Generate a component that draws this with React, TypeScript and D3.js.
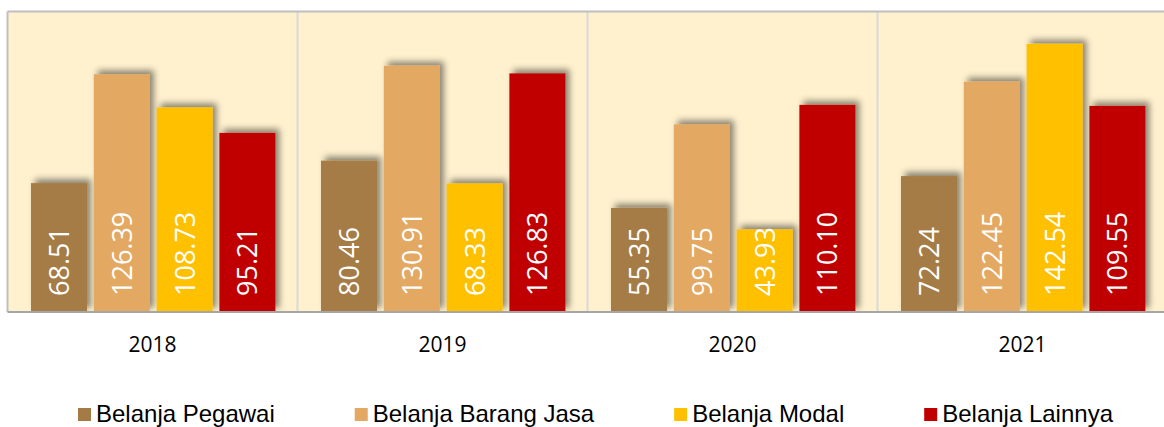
import React, { useEffect, useRef } from 'react';
import * as d3 from 'd3';

// Chart data
const years = ['2018', '2019', '2020', '2021'];
const seriesNames = ['Belanja Pegawai', 'Belanja Barang Jasa', 'Belanja Modal', 'Belanja Lainnya'];
const belanjaPegawai = [68.51, 80.46, 55.35, 72.24];
const belanjaBarangJasa = [126.39, 130.91, 99.75, 122.45];
const belanjaModal = [108.73, 68.33, 43.93, 142.54];
const belanjaLainnya = [95.21, 126.83, 110.1, 109.55];
const seriesColors = ['#A57B45', '#E3A862', '#FFC000', '#C00000'];

const App = () => {
    const svgRef = useRef<SVGSVGElement>(null);

    useEffect(() => {
        const svg = d3.select(svgRef.current);
        svg.selectAll('*').remove();

        const width = 1164;
        const height = 427;
        const plot = { left: 7.5, top: 11.5, right: 1167.5, bottom: 312 };

        const seriesValues = [belanjaPegawai, belanjaBarangJasa, belanjaModal, belanjaLainnya];
        const data = years.map((year, i) => ({
            year,
            values: seriesValues.map((s, j) => ({ key: seriesNames[j], value: s[i], color: seriesColors[j] })),
        }));

        // Scales
        const xScale = d3.scaleBand().domain(years).range([plot.left, plot.right]).padding(0);
        const xInner = d3
            .scaleBand()
            .domain(seriesNames)
            .range([23.5, xScale.bandwidth() - 22.1])
            .paddingInner(0.108)
            .paddingOuter(0);
        const yScale = d3.scaleLinear().domain([0, 160]).range([plot.bottom, plot.top - 0.5]);

        // Shadow filter and clip
        const defs = svg.append('defs');
        const filter = defs
            .append('filter')
            .attr('id', 'barShadow')
            .attr('x', '-20%')
            .attr('y', '-20%')
            .attr('width', '140%')
            .attr('height', '140%');
        filter
            .append('feDropShadow')
            .attr('dx', 4)
            .attr('dy', -4)
            .attr('stdDeviation', 3)
            .attr('flood-color', '#000')
            .attr('flood-opacity', 0.45);
        defs.append('clipPath')
            .attr('id', 'plotClip')
            .append('rect')
            .attr('x', plot.left)
            .attr('y', plot.top)
            .attr('width', plot.right - plot.left)
            .attr('height', plot.bottom - plot.top);

        // Plot background
        svg.append('rect')
            .attr('x', plot.left)
            .attr('y', plot.top)
            .attr('width', plot.right - plot.left)
            .attr('height', plot.bottom - plot.top)
            .attr('fill', '#FFF1CE');

        // Vertical category separators
        svg.append('g')
            .selectAll('line')
            .data(years.slice(1))
            .enter()
            .append('line')
            .attr('x1', (d) => xScale(d)!)
            .attr('x2', (d) => xScale(d)!)
            .attr('y1', plot.top)
            .attr('y2', plot.bottom)
            .attr('stroke', '#D9D9D9')
            .attr('stroke-width', 2);

        // Bars
        const groups = svg
            .append('g')
            .attr('clip-path', 'url(#plotClip)')
            .selectAll('g')
            .data(data)
            .enter()
            .append('g')
            .attr('transform', (d) => `translate(${xScale(d.year)},0)`);

        groups
            .selectAll('rect')
            .data((d) => d.values)
            .enter()
            .append('rect')
            .attr('x', (d) => xInner(d.key)!)
            .attr('y', (d) => yScale(d.value))
            .attr('width', xInner.bandwidth())
            .attr('height', (d) => plot.bottom - yScale(d.value))
            .attr('fill', (d) => d.color)
            .attr('filter', 'url(#barShadow)');

        // Value labels (rotated, inside base)
        groups
            .selectAll('text')
            .data((d) => d.values)
            .enter()
            .append('text')
            .attr('transform', (d) => `translate(${xInner(d.key)! + xInner.bandwidth() / 2 + 10},${plot.bottom - 16}) rotate(-90)`)
            .attr('text-anchor', 'start')
            .attr('fill', '#fff')
            .style('font-family', '"Open Sans", sans-serif')
            .style('font-size', '27px')
            .text((d) => d.value.toFixed(2));

        // Frame lines
        svg.append('line')
            .attr('x1', plot.left)
            .attr('x2', plot.right)
            .attr('y1', plot.top)
            .attr('y2', plot.top)
            .attr('stroke', '#BFBFBF')
            .attr('stroke-width', 2);
        svg.append('line')
            .attr('x1', plot.left)
            .attr('x2', plot.left)
            .attr('y1', plot.top)
            .attr('y2', plot.bottom)
            .attr('stroke', '#BFBFBF')
            .attr('stroke-width', 2);
        svg.append('line')
            .attr('x1', plot.left)
            .attr('x2', plot.right)
            .attr('y1', plot.bottom)
            .attr('y2', plot.bottom)
            .attr('stroke', '#A6A6A6')
            .attr('stroke-width', 2);

        // Category axis labels
        svg.append('g')
            .selectAll('text')
            .data(years)
            .enter()
            .append('text')
            .attr('x', (d) => xScale(d)! + xScale.bandwidth() / 2)
            .attr('y', 352)
            .attr('text-anchor', 'middle')
            .attr('fill', '#000')
            .style('font-family', '"Open Sans", sans-serif')
            .style('font-size', '21px')
            .text((d) => d);

        // Legend
        const legendStart = 78;
        const legendEnd = 1113;
        const markerSize = 13;
        const items = svg
            .append('g')
            .selectAll('g')
            .data(seriesNames)
            .enter()
            .append('g');
        items.append('rect')
            .attr('x', 0)
            .attr('y', 408)
            .attr('width', markerSize)
            .attr('height', markerSize)
            .attr('fill', (d, i) => seriesColors[i]);
        const labels = items
            .append('text')
            .attr('x', markerSize + 5)
            .attr('y', 422)
            .attr('fill', '#000')
            .style('font-family', '"Liberation Sans", Arial, sans-serif')
            .style('font-size', '24px')
            .text((d) => d);

        const itemWidths = labels.nodes().map((n) => markerSize + 5 + (n as SVGTextElement).getComputedTextLength());
        const gap = (legendEnd - legendStart - d3.sum(itemWidths)) / (itemWidths.length - 1);
        let cursor = legendStart;
        items.each(function (d, i) {
            d3.select(this).attr('transform', `translate(${cursor},0)`);
            cursor += itemWidths[i] + gap;
        });

        svg.attr('width', width).attr('height', height);
    }, []);

    return <svg ref={svgRef} width={1164} height={427} style={{ position: 'absolute', left: 0, top: 0, background: '#fff' }}></svg>;
};

export default App;
